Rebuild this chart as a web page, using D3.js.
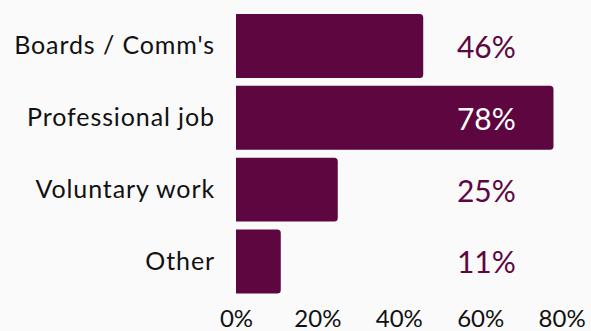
<!DOCTYPE html>
<html>
<head>
<meta charset="utf-8">
<script src="https://cdn.jsdelivr.net/npm/d3@7"></script>
<style>
  html, body { margin: 0; padding: 0; background: #fafafa; }
  svg { display: block; }
</style>
</head>
<body>
<script>
// Share of respondents by type of experience
const categories = ["Boards / Comm's", "Professional job", "Voluntary work", "Other"];
const values = [46, 78, 25, 11];
const tickValues = [0, 20, 40, 60, 80];

const W = 591, H = 331;
const barColor = "#5e0640";
const font = "Lato, 'Noto Sans', sans-serif";

const svg = d3.select("body").append("svg")
  .attr("width", W).attr("height", H);

const x = d3.scaleLinear().domain([0, 80]).range([236, 561.6]);
const y = d3.scaleBand().domain(categories).range([14, 293.4]).paddingInner(0.11).paddingOuter(0);

const data = categories.map((c, i) => ({ cat: c, v: values[i] }));

// Bars with rounded right end, square left end
const r = 3.5;
function barPath(d) {
  const x0 = x(0), x1 = x(d.v), y0 = y(d.cat), y1 = y0 + y.bandwidth();
  return `M${x0},${y0}H${x1 - r}Q${x1},${y0} ${x1},${y0 + r}V${y1 - r}Q${x1},${y1} ${x1 - r},${y1}H${x0}Z`;
}
svg.append("g").selectAll("path").data(data).join("path")
  .attr("d", barPath)
  .attr("fill", barColor);

// Category labels
svg.append("g").selectAll("text").data(data).join("text")
  .attr("x", 215)
  .attr("y", d => y(d.cat) + y.bandwidth() / 2 - 1.5)
  .attr("text-anchor", "end")
  .attr("dominant-baseline", "central")
  .attr("font-family", font)
  .attr("font-size", 25)
  .attr("letter-spacing", 0.9)
  .attr("fill", "#111")
  .text(d => d.cat);

// Value labels in a column; white when the bar runs underneath
const labelX = x(61.5);
svg.append("g").selectAll("text").data(data).join("text")
  .attr("x", labelX)
  .attr("y", d => y(d.cat) + y.bandwidth() / 2)
  .attr("text-anchor", "middle")
  .attr("dominant-baseline", "central")
  .attr("font-family", font)
  .attr("font-size", 30)
  .attr("fill", d => x(d.v) > labelX ? "#ffffff" : barColor)
  .text(d => d.v + "%");

// Bottom axis: tick labels only
const axis = svg.append("g")
  .attr("transform", `translate(0,${H - 12})`)
  .call(d3.axisBottom(x).tickValues(tickValues).tickFormat(d => d + "%").tickSize(0).tickPadding(0));
axis.select(".domain").remove();
axis.selectAll("text")
  .attr("font-family", font)
  .attr("font-size", 24)
  .attr("fill", "#111")
  .attr("dy", "0.35em");
</script>
</body>
</html>
